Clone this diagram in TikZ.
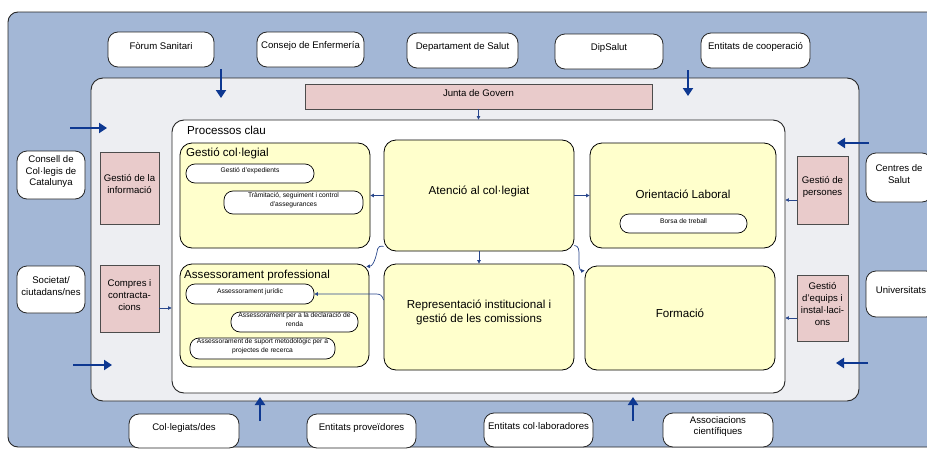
\documentclass[tikz,border=0pt]{standalone}
\usepackage{fontspec}
\setmainfont{Liberation Sans}
\usetikzlibrary{arrows.meta,fit}
\definecolor{panelblue}{RGB}{163,183,214}
\definecolor{panelgray}{RGB}{237,238,242}
\definecolor{boxyellow}{RGB}{255,255,204}
\definecolor{boxpink}{RGB}{233,203,203}
\definecolor{arrowblue}{RGB}{14,56,145}
\definecolor{linkblue}{RGB}{40,70,140}
\begin{document}
\begin{tikzpicture}[x=1pt,y=-1pt,
  panel/.style={draw=black!85, line width=0.9pt, inner sep=0pt},
  ent/.style={draw=black!85, fill=white, rounded corners=10pt, line width=0.8pt, align=center, inner sep=0pt, font=\fontsize{9.6}{11.5}\selectfont},
  pinkbox/.style={draw=black!70, fill=boxpink, line width=0.8pt, align=center, inner sep=0pt, font=\fontsize{9.6}{12}\selectfont},
  yelbox/.style={draw=black, fill=boxyellow, rounded corners=12pt, line width=0.8pt, align=center, inner sep=0pt, font=\fontsize{11.6}{14}\selectfont},
  pill/.style={draw=black, fill=white, rounded corners=9pt, line width=0.7pt, align=center, inner sep=0pt, font=\fontsize{6.7}{8.5}\selectfont},
  bigarrow/.style={draw=arrowblue, line width=2.6pt, -{Triangle[length=8pt,width=10pt]}},
  link/.style={draw=linkblue, line width=0.7pt, -{Triangle[length=3.5pt,width=3.5pt]}},
  titletext/.style={anchor=west, inner sep=0pt, font=\fontsize{11.6}{14}\selectfont}
]
\fill[white] (0,0) rectangle (927,450);
\clip (0,0) rectangle (927,450);

% panels
\node[panel, fill=panelblue, rounded corners=10pt, fit={(8,12) (960,447)}] (outer) {};
\node[panel, fill=panelgray, rounded corners=12pt, fit={(91,78) (859,401)}] (mid) {};
\node[panel, fill=white, rounded corners=12pt, fit={(172,120) (785,393)}] (proc) {};
\node[titletext] (proclbl) at (187,130) {Processos clau};

% Junta de Govern
\node[pinkbox, fit={(305,84) (652,109)}] (junta) {Junta de Govern};

% yellow process boxes
\node[yelbox, fit={(180,143) (370,248)}] (gcol) {};
\node[titletext] (gcollbl) at (186,153) {Gestió col·legial};
\node[yelbox, fit={(384,140) (574,251)}] (aten) {Atenció al col·legiat};
\node[yelbox, fit={(590,143) (776,248)}] (orient) {};
\node[titletext, anchor=center] (orientlbl) at (683,194) {Orientació Laboral};
\node[yelbox, fit={(180,264) (369,367)}] (asses) {};
\node[titletext] (asseslbl) at (184,275) {Assessorament professional};
\node[yelbox, fit={(384,264) (574,370)}] (repr) {Representació institucional i\\gestió de les comissions};
\node[yelbox, fit={(585,266) (775,370)}] (form) {Formació};

% pills
\node[pill, fit={(186,164) (314,183)}] (gexp) {Gestió d'expedients};
\node[pill, fit={(224,191) (363,214)}] (tram) {Tràmitació, seguiment i control\\d'assegurances};
\node[pill, fit={(620,214) (747,233)}] (borsa) {Borsa de treball};
\node[pill, fit={(186,284) (314,304)}] (ajur) {Assessorament jurídic};
\node[pill, fit={(231,312) (358,332)}] (arenda) {Assessorament per a la declaració de\\renda};
\node[pill, fit={(190,338) (335,359)}] (asuport) {Assessorament de suport metodològic per a\\projectes de recerca};

% pink side boxes
\node[pinkbox, fit={(100,152) (159,224)}] (ginfo) {Gestió de la\\informació};
\node[pinkbox, fit={(100,265) (159,332)}] (compres) {Compres i\\contracta-\\cions};
\node[pinkbox, fit={(797,156) (848,224)}] (gpers) {Gestió de\\persones};
\node[pinkbox, fit={(797,275) (848,341)}] (gequips) {Gestió\\d'equips i\\instal·laci-\\ons};

% external entities
\node[ent, fit={(108,32) (214,67)}] (forum) {Fòrum Sanitari};
\node[ent, fit={(257,32) (364,67)}] (consejo) {Consejo de Enfermería};
\node[ent, fit={(407,33) (518,68)}] (dept) {Departament de Salut};
\node[ent, fit={(555,34) (663,69)}] (dip) {DipSalut};
\node[ent, fit={(701,33) (810,68)}] (coop) {Entitats de cooperació};
\node[ent, fit={(17,151) (85,199)}] (consell) {Consell de\\Col·legis de\\Catalunya};
\node[ent, fit={(17,266) (85,313)}] (societat) {Societat/\\ciutadans/nes};
\node[ent, fit={(866,153) (932,202)}] (centres) {Centres de\\Salut};
\node[ent, fit={(866,271) (936,317)}] (univ) {Universitats};
\node[ent, fit={(129,414) (239,448)}] (colleg) {Col·legiats/des};
\node[ent, fit={(307,414) (416,448)}] (prov) {Entitats proveïdores};
\node[ent, fit={(484,413) (593,447)}] (collab) {Entitats col·laboradores};
\node[ent, fit={(663,413) (773,447)}] (assoc) {Associacions\\científiques};

% thick arrows (free standing)
\coordinate (t1s) at (221,69);  \coordinate (t1e) at (221,98);
\coordinate (t2s) at (688,70);  \coordinate (t2e) at (688,96);
\coordinate (l1s) at (70,128);  \coordinate (l1e) at (107,128);
\coordinate (l2s) at (73,365);  \coordinate (l2e) at (112,365);
\coordinate (r1s) at (869,143); \coordinate (r1e) at (837,143);
\coordinate (r2s) at (868,363); \coordinate (r2e) at (836,363);
\coordinate (b1s) at (260,421); \coordinate (b1e) at (260,397);
\coordinate (b2s) at (633,421); \coordinate (b2e) at (633,397);
\foreach \p in {t1,t2,l1,l2,r1,r2,b1,b2} \draw[bigarrow] (\p s) -- (\p e);

% thin connectors
\draw[link] (junta.south) -- (junta.south |- proc.north);
\draw[link] (aten.west) -- (aten.west -| gcol.east);
\draw[link] (aten.east) -- (aten.east -| orient.west);
\draw[link] (aten.south) -- (aten.south |- repr.north);
\draw[link] ([yshift=5pt]aten.south west) .. controls (376,245) and (378,251) .. (376,256)
  .. controls (374,263) and (372,266) .. ([xshift=-3pt,yshift=-3pt]asses.north east);
\draw[link] ([yshift=6pt]aten.south east) .. controls (579,246) and (579,250) .. (579,256)
  -- (579,264) .. controls (579,269) and (581,271) .. ([yshift=-5pt]form.north west);
\draw[link] ([yshift=17pt]repr.west) .. controls (382,295) and (380,294) .. (376,294) -- (ajur.east);
\draw[link] ([yshift=-9.5pt]compres.east) -- ([yshift=-9.5pt]compres.east -| proc.west);
\draw[link] ([yshift=-10pt]gpers.west) -- ([yshift=-10pt]gpers.west -| proc.east);
\draw[link] ([yshift=-10pt]gequips.west) -- ([yshift=-10pt]gequips.west -| proc.east);
\end{tikzpicture}
\end{document}
